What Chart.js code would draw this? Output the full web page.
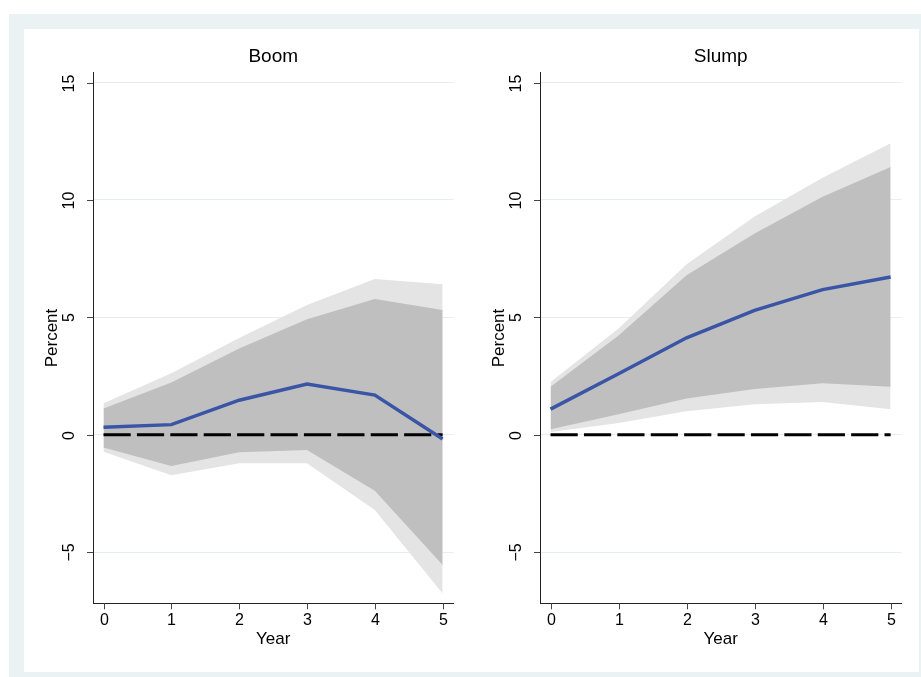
<!DOCTYPE html>
<html>
<head>
<meta charset="utf-8">
<script src="https://cdn.jsdelivr.net/npm/chart.js@4"></script>
<style>
  html, body { margin: 0; padding: 0; background: #fff; }
  #frame { position: absolute; left: 9px; top: 14px; width: 912px; height: 663px; background: #eaf2f3; }
  #inner { position: absolute; left: 24px; top: 29px; width: 895px; height: 643px; background: #fff; }
  canvas { position: absolute; top: 29px; }
  #boom { left: 24px; }
  #slump { left: 470px; }
</style>
</head>
<body>
<div id="frame"></div>
<div id="inner"></div>
<canvas id="boom" width="446" height="643"></canvas>
<canvas id="slump" width="449" height="643"></canvas>
<script>
const years = [0, 1, 2, 3, 4, 5];
const yTicks = [-5, 0, 5, 10, 15];
const zeroLine = [0, 0, 0, 0, 0, 0];

// Boom panel
const boomIrf = [0.32, 0.43, 1.47, 2.16, 1.69, -0.18];
const boomInnerUpper = [1.12, 2.22, 3.67, 4.92, 5.78, 5.31];
const boomInnerLower = [-0.54, -1.33, -0.75, -0.65, -2.39, -5.55];
const boomOuterUpper = [1.34, 2.62, 4.12, 5.53, 6.63, 6.41];
const boomOuterLower = [-0.72, -1.73, -1.22, -1.22, -3.21, -6.76];

// Slump panel
const slumpIrf = [1.09, 2.6, 4.13, 5.3, 6.18, 6.72];
const slumpInnerUpper = [2.04, 4.23, 6.79, 8.57, 10.14, 11.4];
const slumpInnerLower = [0.23, 0.87, 1.54, 1.95, 2.19, 2.04];
const slumpOuterUpper = [2.25, 4.52, 7.26, 9.3, 10.95, 12.42];
const slumpOuterLower = [0.12, 0.5, 1.0, 1.3, 1.39, 1.08];

const FONT = '"Liberation Sans", Arial, Helvetica, sans-serif';

function pts(arr) {
  return years.map((x, i) => ({ x: x, y: arr[i] }));
}

// draws tick marks, rotated y labels and titles in Stata style
const panelText = {
  id: 'panelText',
  afterDraw(chart, args, opts) {
    const { ctx, chartArea: a, scales } = chart;
    const xs = scales.x, ys = scales.y;
    ctx.save();
    ctx.strokeStyle = '#444';
    ctx.lineWidth = 1;
    ctx.fillStyle = '#000';
    ctx.textAlign = 'center';
    ctx.textBaseline = 'middle';

    // y ticks
    ctx.font = '16px ' + FONT;
    yTicks.forEach(v => {
      const py = Math.round(ys.getPixelForValue(v)) + 0.5;
      ctx.beginPath();
      ctx.moveTo(a.left - 6, py);
      ctx.lineTo(a.left, py);
      ctx.stroke();
      ctx.save();
      ctx.translate(a.left - 23, py);
      ctx.rotate(-Math.PI / 2);
      ctx.fillText(v < 0 ? '\u2212' + Math.abs(v) : String(v), 0, 0);
      ctx.restore();
    });

    // x ticks
    years.forEach(v => {
      const px = Math.round(xs.getPixelForValue(v)) + 0.5;
      ctx.beginPath();
      ctx.moveTo(px, a.bottom);
      ctx.lineTo(px, a.bottom + 6);
      ctx.stroke();
      ctx.fillText(String(v), px, a.bottom + 17);
    });

    // axis titles
    ctx.font = '17px ' + FONT;
    ctx.fillText('Year', (a.left + a.right) / 2, a.bottom + 36);
    ctx.save();
    ctx.translate(a.left - 40.5, (a.top + a.bottom) / 2);
    ctx.rotate(-Math.PI / 2);
    ctx.fillText('Percent', 0, 0);
    ctx.restore();

    // panel title
    ctx.font = '19px ' + FONT;
    ctx.fillText(opts.title, (a.left + a.right) / 2, a.top - 16);
    ctx.restore();
  }
};

function makePanel(id, title, irf, innerUp, innerLo, outerUp, outerLo, pad) {
  return new Chart(document.getElementById(id), {
    type: 'line',
    data: {
      datasets: [
        { data: pts(irf), borderColor: '#3b55a6', borderWidth: 3.5, pointRadius: 0, tension: 0, fill: false, order: 0 },
        { data: pts(zeroLine), borderColor: '#000', borderWidth: 3, borderDash: [27.2, 6.2], pointRadius: 0, fill: false, order: 1 },
        { data: pts(innerUp), borderWidth: 0, backgroundColor: '#bfbfbf', pointRadius: 0, fill: '+1', order: 2 },
        { data: pts(innerLo), borderWidth: 0, pointRadius: 0, fill: false, order: 3 },
        { data: pts(outerUp), borderWidth: 0, backgroundColor: '#e4e4e4', pointRadius: 0, fill: '+1', order: 4 },
        { data: pts(outerLo), borderWidth: 0, pointRadius: 0, fill: false, order: 5 }
      ]
    },
    options: {
      responsive: false,
      animation: false,
      devicePixelRatio: 1,
      layout: { padding: pad },
      plugins: {
        legend: { display: false },
        tooltip: { enabled: false },
        panelText: { title: title }
      },
      scales: {
        x: {
          type: 'linear',
          min: -0.155,
          max: 5.16,
          grid: { display: false, drawTicks: false },
          border: { display: true, color: '#222', width: 1 },
          ticks: { display: false }
        },
        y: {
          type: 'linear',
          min: -7.18,
          max: 15.42,
          afterBuildTicks: s => { s.ticks = yTicks.map(v => ({ value: v })); },
          grid: { color: '#e6eef1', lineWidth: 1, drawTicks: false },
          border: { display: true, color: '#222', width: 1 },
          ticks: { display: false }
        }
      }
    },
    plugins: [panelText]
  });
}

makePanel('boom', 'Boom', boomIrf, boomInnerUpper, boomInnerLower, boomOuterUpper, boomOuterLower,
  { left: 69, top: 43.7, right: 16.5, bottom: 68.7 });
makePanel('slump', 'Slump', slumpIrf, slumpInnerUpper, slumpInnerLower, slumpOuterUpper, slumpOuterLower,
  { left: 70, top: 43.7, right: 17.5, bottom: 68.7 });
</script>
</body>
</html>
